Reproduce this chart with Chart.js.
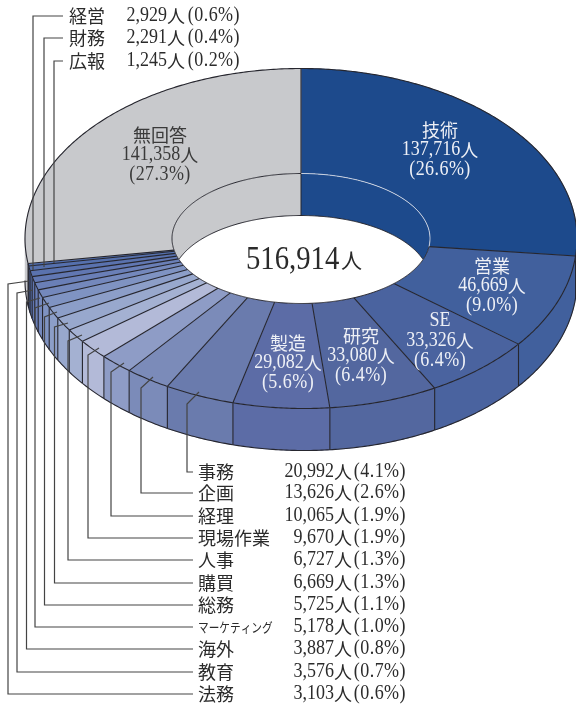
<!DOCTYPE html>
<html>
<head>
<meta charset="utf-8">
<script src="https://cdn.jsdelivr.net/npm/chart.js@4"></script>
<style>
  html, body { margin: 0; padding: 0; background: #fff; }
  canvas { display: block; }
</style>
</head>
<body>
<canvas id="chart" width="576" height="708"></canvas>
<script>
// ── Data ───────────────────────────────────────
const categories = ['技術', '営業', 'SE', '研究', '製造', '事務', '企画', '経理', '現場作業', '人事', '購買', '総務', 'マーケティング', '海外', '教育', '法務', '経営', '財務', '広報', '無回答'];
const values = [137716, 46669, 33326, 33080, 29082, 20992, 13626, 10065, 9670, 6727, 6669, 5725, 5178, 3887, 3576, 3103, 2929, 2291, 1245, 141358];
const percents = ['26.6', '9.0', '6.4', '6.4', '5.6', '4.1', '2.6', '1.9', '1.9', '1.3', '1.3', '1.1', '1.0', '0.8', '0.7', '0.6', '0.6', '0.4', '0.2', '27.3'];
const colors = ['#1d4a8c', '#41609d', '#4a639f', '#53679f', '#5c6ca6', '#6a7bad', '#7b8bb9', '#8e9cc6', '#b3bad8', '#a4b1d2', '#98a8cd', '#8c9ec8', '#7f93c2', '#7488bc', '#6a7fb7', '#6177b2', '#5a72ae', '#5570ad', '#4e6cad', '#c8c9cc'];
const total = 516914;

// ── Layout of the tilted ring ──────────────────
const CX = 301, CY = 238.5, RX = 276, RY = 170, IRX = 129, IRY = 65, DEPTH = 42;
const SKEW = 3.2; // the front of the ring leans slightly to the right
const SERIF = '"Liberation Serif"', CJK = '"Noto Sans CJK JP"';

// slices with text inside the ring: [category index, x, first line y]
const insideLabels = [[0, 440, 130], [1, 492, 266], [2, 440, 321], [3, 361, 336], [4, 288, 343], [19, 160, 135]];
// rows above the ring: [category index, y, leader x, leader end y]
const topRows = [[16, 16, 33, 270], [17, 38, 44, 267], [18, 61, 54, 263]];
// rows below the ring: [category index, y, leader x, leader top y, tip x, tip y]
const bottomRows = [
  [5, 472, 187, 404, 199, 392], [6, 493, 141, 388, 153, 377], [7, 516, 111, 372, 124, 363],
  [8, 538, 88, 355, 99, 348], [9, 560, 68, 341, 82, 335], [10, 583, 54.5, 327, 68, 323],
  [11, 605, 44.5, 317, 57, 312], [12, 627, 35, 308, 49, 303], [13, 649, 26.5, 302, 40, 298],
  [14, 672, 17, 293, 33, 290], [15, 694, 8, 284, 29, 281]
];

// ── Ring geometry, t is the clockwise angle from 12 o'clock ──
function direction(t) {
  const c = Math.cos(t);
  return [RX * Math.sin(t) + (c < 0 ? SKEW * c * c : 0), -RY * c];
}
function outerPt(t, dy = 0) {
  const d = direction(t);
  return [CX + d[0], CY + d[1] + dy];
}
function innerPt(t, dy = 0) {
  const d = direction(t);
  const k = 1 / Math.hypot(d[0] / IRX, d[1] / IRY);
  return [CX + k * d[0], CY + k * d[1] + dy];
}
function samples(a, b, fn, dy) {
  const n = Math.max(2, Math.ceil(Math.abs(b - a) / 0.01));
  const pts = [];
  for (let i = 0; i <= n; i++) pts.push(fn(a + (b - a) * i / n, dy));
  return pts;
}
function poly(ctx, pts) {
  ctx.beginPath();
  pts.forEach((p, i) => i ? ctx.lineTo(p[0], p[1]) : ctx.moveTo(p[0], p[1]));
}

// ── Draws the doughnut's arcs as a tilted ring, using the angles Chart.js worked out ──
const ring3d = {
  id: 'ring3d',
  beforeDatasetsDraw(chart) {
    const ctx = chart.ctx;
    const arcs = chart.getDatasetMeta(0).data.map((el, i) => ({
      a: el.startAngle + Math.PI / 2, b: el.endAngle + Math.PI / 2, color: colors[i]
    }));
    ctx.save();
    ctx.lineJoin = 'round';

    // outer wall
    arcs.forEach(s => {
      const a = Math.max(s.a, Math.PI / 2), b = Math.min(s.b, Math.PI * 1.5);
      if (b <= a) return;
      poly(ctx, samples(a, b, outerPt, 0).concat(samples(b, a, outerPt, DEPTH)));
      ctx.closePath();
      ctx.fillStyle = s.color;
      ctx.fill();
      ctx.strokeStyle = s.color;
      ctx.lineWidth = 0.5;
      ctx.stroke();
    });
    ctx.strokeStyle = '#26262e';
    ctx.lineWidth = 1.1;
    arcs.forEach(s => {
      const a = Math.max(s.a, Math.PI / 2), b = Math.min(s.b, Math.PI * 1.5);
      if (b <= a) return;
      poly(ctx, samples(a, b, outerPt, DEPTH));
      ctx.stroke();
      if (s.b < Math.PI * 1.5) {
        poly(ctx, [outerPt(b), outerPt(b, DEPTH)]);
        ctx.stroke();
      }
    });

    // top face
    arcs.forEach(s => {
      poly(ctx, samples(s.a, s.b, outerPt, 0).concat(samples(s.b, s.a, innerPt, 0)));
      ctx.closePath();
      ctx.fillStyle = s.color;
      ctx.fill();
      ctx.strokeStyle = s.color;
      ctx.lineWidth = 0.5;
      ctx.stroke();
    });
    ctx.strokeStyle = '#26262e';
    ctx.lineWidth = 1.1;
    arcs.forEach(s => {
      poly(ctx, [innerPt(s.a), outerPt(s.a)]);
      ctx.stroke();
      poly(ctx, samples(s.a, s.b, outerPt, 0));
      ctx.stroke();
    });

    // hole
    poly(ctx, samples(0, Math.PI * 2, innerPt, 0));
    ctx.closePath();
    ctx.fillStyle = '#fff';
    ctx.fill();
    ctx.save();
    ctx.clip();
    // inner wall, seen above the lower rim
    arcs.forEach(s => {
      if (s.a > Math.PI / 2 && s.b < Math.PI * 1.4) return;
      poly(ctx, samples(s.a, s.b, innerPt, 0).concat(samples(s.b, s.a, innerPt, DEPTH)));
      ctx.closePath();
      ctx.fillStyle = s.color;
      ctx.fill();
    });
    ctx.restore();
    // rim lines
    arcs.forEach((s, i) => {
      ctx.strokeStyle = i === 0 ? '#d5d9e4' : '#26262e';
      ctx.lineWidth = i === 0 ? 0.9 : 1;
      poly(ctx, samples(s.a, s.b, innerPt, 0));
      ctx.stroke();
    });
    // lower rim edge where the wall meets the hole
    const lip = samples(-1.62, 1.62, innerPt, DEPTH).filter(p => {
      return Math.pow((p[0] - CX) / IRX, 2) + Math.pow((p[1] - CY) / IRY, 2) <= 1.001;
    });
    ctx.strokeStyle = '#26262e';
    poly(ctx, lip);
    ctx.stroke();
    poly(ctx, [[CX, CY - IRY], [CX, CY - IRY + DEPTH]]);
    ctx.stroke();

    ctx.restore();
    return false;
  },
  afterDraw(chart) {
    drawLeaders(chart.ctx);
    drawLabels(chart.ctx);
  }
};

// ── Leader lines ───────────────────────────────
function drawLeaders(ctx) {
  ctx.save();
  ctx.strokeStyle = '#444';
  ctx.lineWidth = 1.2;
  topRows.forEach(([, y, x, end]) => {
    poly(ctx, [[63, y], [x, y], [x, end]]);
    ctx.stroke();
  });
  bottomRows.forEach(([, y, x, top, tx, ty]) => {
    poly(ctx, [[193, y], [x, y], [x, top], [tx, ty]]);
    ctx.stroke();
  });
  ctx.restore();
}

// ── Text: Latin is a tall, slightly condensed serif, kanji in Noto ──
function drawText(ctx, text, x, y, align) {
  const parts = text.match(/[\x00-\x7f]+|[^\x00-\x7f]+/g).map(t => ({ t, latin: /^[\x00-\x7f]/.test(t) }));
  let w = 0;
  parts.forEach(p => {
    ctx.font = p.latin ? `20px ${SERIF}` : `18px ${CJK}`;
    p.w = ctx.measureText(p.t).width * (p.latin ? 0.9 : 1);
    w += p.w;
  });
  let px = align === 'center' ? x - w / 2 : align === 'right' ? x - w : x;
  ctx.textAlign = 'left';
  ctx.textBaseline = 'middle';
  parts.forEach(p => {
    ctx.save();
    ctx.translate(px, y);
    if (p.latin) ctx.scale(0.9, 1);
    ctx.font = p.latin ? `20px ${SERIF}` : `18px ${CJK}`;
    ctx.fillText(p.t, 0, 0);
    ctx.restore();
    px += p.w;
  });
}
function drawPercent(ctx, i, x, y, align) {
  ctx.save();
  ctx.letterSpacing = '0.5px';
  drawText(ctx, `(${percents[i]}%)`, x, y, align);
  ctx.restore();
}
function drawName(ctx, name, x, y) {
  if (name === 'マーケティング') {
    ctx.save();
    ctx.translate(x, y);
    ctx.scale(0.82, 1);
    ctx.font = `13px ${CJK}`;
    ctx.textAlign = 'left';
    ctx.textBaseline = 'middle';
    ctx.fillText(name, 0, 0);
    ctx.restore();
    return;
  }
  drawText(ctx, name, x, y, 'left');
}
function drawRow(ctx, i, y, nameX, numX, endX) {
  drawName(ctx, categories[i], nameX, y);
  drawText(ctx, values[i].toLocaleString('en-US'), numX, y, 'right');
  drawText(ctx, '人', numX, y, 'left');
  drawPercent(ctx, i, endX, y, 'right');
}
function drawLabels(ctx) {
  ctx.save();
  ctx.fillStyle = '#2b2b2b';
  topRows.forEach(([i, y]) => drawRow(ctx, i, y, 69, 167, 240));
  bottomRows.forEach(([i, y]) => drawRow(ctx, i, y, 198, 334, 406));

  insideLabels.forEach(([i, x, y]) => {
    ctx.fillStyle = i === 19 ? '#3a3a3a' : '#eef0f6';
    drawText(ctx, categories[i], x, y, 'center');
    drawText(ctx, values[i].toLocaleString('en-US') + '人', x, y + 20, 'center');
    drawPercent(ctx, i, x, y + 40, 'center');
  });

  // total in the hole
  ctx.fillStyle = '#2b2b2b';
  ctx.textAlign = 'left';
  ctx.textBaseline = 'middle';
  ctx.save();
  ctx.translate(246, 260);
  ctx.scale(0.87, 1);
  ctx.font = `33px ${SERIF}`;
  ctx.fillText(total.toLocaleString('en-US'), 0, 0);
  ctx.restore();
  ctx.font = `21px ${CJK}`;
  ctx.fillText('人', 341, 260);
  ctx.restore();
}

new Chart(document.getElementById('chart'), {
  type: 'doughnut',
  data: {
    labels: categories,
    datasets: [{ data: values, backgroundColor: colors, borderWidth: 0 }]
  },
  options: {
    responsive: false,
    animation: false,
    cutout: '50%',
    plugins: { legend: { display: false }, tooltip: { enabled: false } }
  },
  plugins: [ring3d]
});
</script>
</body>
</html>
